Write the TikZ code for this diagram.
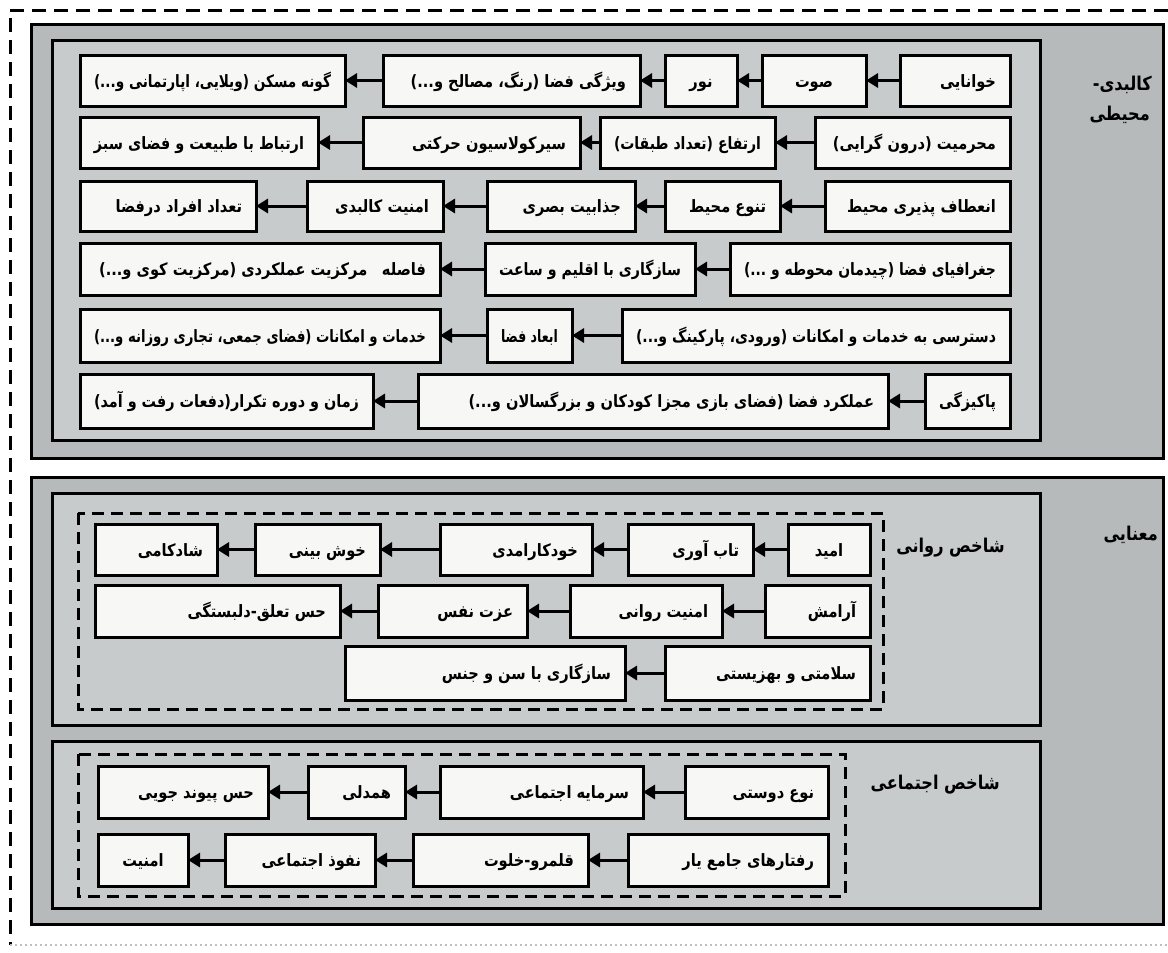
\documentclass[tikz,border=0pt]{standalone}
\usepackage{fontspec}
\usepackage{graphicx}
\usetikzlibrary{arrows.meta}
\TeXXeTstate=1
\newfontfamily\fa[Script=Arabic]{DejaVu Sans}
\definecolor{pgray}{RGB}{182,186,186}
\definecolor{igray}{RGB}{200,203,203}
\definecolor{bfill}{RGB}{247,247,245}
\tikzset{
 bxs/.style={draw=black, line width=3pt, fill=bfill, inner sep=0pt, outer sep=0pt},
 arr/.style={line width=3pt, -{Triangle[length=12pt,width=14pt]}},
 panel/.style={draw=black, line width=3pt, fill=pgray},
 inpanel/.style={draw=black, line width=3pt, fill=igray},
 dbox/.style={draw=black, line width=3pt, dash pattern=on 12pt off 7pt},
 lab/.style={font=\fa\bfseries\fontsize{19}{22}\selectfont, inner sep=0pt, anchor=east},
}
\newsavebox\kbb
\newcommand\fitr[3]{\sbox\kbb{\fa\bfseries\fontsize{17}{19}\selectfont #3}%
\pgfmathsetmacro\kbs{min(0.86,#1/max(1,\the\wd\kbb))}%
\makebox[#1pt][#2]{\rule[-4pt]{0pt}{21pt}\smash{\scalebox{\kbs}[1]{\usebox\kbb}}}}
\newcommand\kboxa[7]{\pgfmathsetmacro\kbw{#3-#2-28}%
\node[bxs, minimum width={#3-#2}, minimum height={#5-#4}] (#1) at ({(#2+#3)/2},{(#4+#5)/2}) {\fitr{\kbw}{#7}{#6}};}
\newcommand\kbox[6]{\kboxa{#1}{#2}{#3}{#4}{#5}{#6}{r}}
\newcommand\kboxc[6]{\kboxa{#1}{#2}{#3}{#4}{#5}{#6}{c}}
\newcommand\lbx[1]{\scalebox{0.85}[1]{#1}}
\begin{document}
\begin{tikzpicture}[x=1pt,y=-1pt]
\useasboundingbox (0,0) rectangle (1168,953);
\fill[white] (0,0) rectangle (1168,953);
% outer dashed frame
\draw[line width=3pt, dash pattern=on 14pt off 8pt] (1168,10) -- (10,10) -- (10,945);
\draw[gray!50, line width=1.5pt, dash pattern=on 2pt off 3pt] (10,945) -- (1168,945);
% panel 1
\draw[panel] (31,24) rectangle (1163,458);
\draw[inpanel] (52,40) rectangle (1040,440);
\node[lab] (l1a) at (1152,85) {\lbx{\beginR کالبدی-\endR}};
\node[lab] (l1b) at (1150,115) {\lbx{\beginR محیطی\endR}};
% row 1
\kbox{a1}{900}{1010}{55}{106}{\beginR خوانایی\endR}
\kboxc{a2}{762}{866}{55}{106}{\beginR صوت\endR}
\kboxc{a3}{665}{737}{55}{106}{\beginR نور\endR}
\kbox{a4}{383}{640}{55}{106}{\beginR ویژگی فضا (رنگ، مصالح و...)\endR}
\kbox{a5}{80}{345}{55}{106}{\beginR گونه مسکن (ویلایی، اپارتمانی و...)\endR}
% row 2
\kbox{b1}{815}{1010}{117}{168}{\beginR محرمیت (درون گرایی)\endR}
\kbox{b2}{600}{775}{117}{168}{\beginR ارتفاع (تعداد طبقات)\endR}
\kbox{b3}{363}{580}{117}{168}{\beginR سیرکولاسیون حرکتی\endR}
\kbox{b4}{80}{318}{117}{168}{\beginR ارتباط با طبیعت و فضای سبز\endR}
% row 3
\kbox{c1}{825}{1010}{181}{231}{\beginR انعطاف پذیری محیط\endR}
\kbox{c2}{665}{780}{181}{231}{\beginR تنوع محیط\endR}
\kbox{c3}{487}{635}{181}{231}{\beginR جذابیت بصری\endR}
\kbox{c4}{307}{443}{181}{231}{\beginR امنیت کالبدی\endR}
\kbox{c5}{80}{256}{181}{231}{\beginR تعداد افراد درفضا\endR}
% row 4
\kbox{d1}{730}{1010}{243}{295}{\beginR جغرافیای فضا (چیدمان محوطه و ...)\endR}
\kbox{d2}{485}{695}{243}{295}{\beginR سازگاری با اقلیم و ساعت\endR}
\kbox{d3}{80}{440}{243}{295}{\beginR فاصله\quad مرکزیت عملکردی (مرکزیت کوی و...)\endR}
% row 5
\kbox{e1}{622}{1010}{309}{362}{\beginR دسترسی به خدمات و امکانات (ورودی، پارکینگ و...)\endR}
\kboxc{e2}{487}{572}{309}{362}{\beginR ابعاد فضا\endR}
\kbox{e3}{80}{440}{309}{362}{\beginR خدمات و امکانات (فضای جمعی، تجاری روزانه و...)\endR}
% row 6
\kbox{f1}{925}{1010}{374}{428}{\beginR پاکیزگی\endR}
\kbox{f2}{418}{888}{374}{428}{\beginR عملکرد فضا (فضای بازی مجزا کودکان و بزرگسالان و...)\endR}
\kbox{f3}{80}{373}{374}{428}{\beginR زمان و دوره تکرار(دفعات رفت و آمد)\endR}
\draw[arr] (a1.west) -- (a2.east);
\draw[arr] (a2.west) -- (a3.east);
\draw[arr] (a3.west) -- (a4.east);
\draw[arr] (a4.west) -- (a5.east);
\draw[arr] (b1.west) -- (b2.east);
\draw[arr] (b2.west) -- (b3.east);
\draw[arr] (b3.west) -- (b4.east);
\draw[arr] (c1.west) -- (c2.east);
\draw[arr] (c2.west) -- (c3.east);
\draw[arr] (c3.west) -- (c4.east);
\draw[arr] (c4.west) -- (c5.east);
\draw[arr] (d1.west) -- (d2.east);
\draw[arr] (d2.west) -- (d3.east);
\draw[arr] (e1.west) -- (e2.east);
\draw[arr] (e2.west) -- (e3.east);
\draw[arr] (f1.west) -- (f2.east);
\draw[arr] (f2.west) -- (f3.east);
% panel 2
\draw[panel] (31,477) rectangle (1163,924);
\node[lab] (l2) at (1158,535) {\lbx{\beginR معنایی\endR}};
\draw[inpanel] (52,493) rectangle (1040,725);
\draw[inpanel] (52,741) rectangle (1040,908);
\draw[dbox] (78,513) rectangle (883,709);
\draw[dbox] (78,754) rectangle (845,896);
\node[lab] (l3) at (1005,548) {\lbx{\beginR شاخص روانی\endR}};
\node[lab] (l4) at (1000,785) {\lbx{\beginR شاخص اجتماعی\endR}};
% psych
\kboxc{p1}{788}{870}{524}{575}{\beginR امید\endR}
\kbox{p2}{628}{753}{524}{575}{\beginR تاب آوری\endR}
\kbox{p3}{440}{592}{524}{575}{\beginR خودکارامدی\endR}
\kbox{p4}{255}{380}{524}{575}{\beginR خوش بینی\endR}
\kbox{p5}{95}{217}{524}{575}{\beginR شادکامی\endR}
\kbox{q1}{765}{870}{585}{637}{\beginR آرامش\endR}
\kbox{q2}{570}{722}{585}{637}{\beginR امنیت روانی\endR}
\kbox{q3}{378}{527}{585}{637}{\beginR عزت نفس\endR}
\kbox{q4}{95}{340}{585}{637}{\beginR حس تعلق-دلبستگی\endR}
\kbox{r1}{665}{870}{646}{700}{\beginR سلامتی و بهزیستی\endR}
\kbox{r2}{345}{625}{646}{700}{\beginR سازگاری با سن و جنس\endR}
\draw[arr] (p1.west) -- (p2.east);
\draw[arr] (p2.west) -- (p3.east);
\draw[arr] (p3.west) -- (p4.east);
\draw[arr] (p4.west) -- (p5.east);
\draw[arr] (q1.west) -- (q2.east);
\draw[arr] (q2.west) -- (q3.east);
\draw[arr] (q3.west) -- (q4.east);
\draw[arr] (r1.west) -- (r2.east);
% social
\kbox{s1}{685}{828}{766}{818}{\beginR نوع دوستی\endR}
\kbox{s2}{440}{643}{766}{818}{\beginR سرمایه اجتماعی\endR}
\kbox{s3}{308}{405}{766}{818}{\beginR همدلی\endR}
\kbox{s4}{98}{268}{766}{818}{\beginR حس پیوند جویی\endR}
\kbox{t1}{628}{828}{834}{886}{\beginR رفتارهای جامع یار\endR}
\kbox{t2}{413}{588}{834}{886}{\beginR قلمرو-خلوت\endR}
\kbox{t3}{225}{375}{834}{886}{\beginR نفوذ اجتماعی\endR}
\kboxc{t4}{98}{188}{834}{886}{\beginR امنیت\endR}
\draw[arr] (s1.west) -- (s2.east);
\draw[arr] (s2.west) -- (s3.east);
\draw[arr] (s3.west) -- (s4.east);
\draw[arr] (t1.west) -- (t2.east);
\draw[arr] (t2.west) -- (t3.east);
\draw[arr] (t3.west) -- (t4.east);
\end{tikzpicture}
\end{document}
